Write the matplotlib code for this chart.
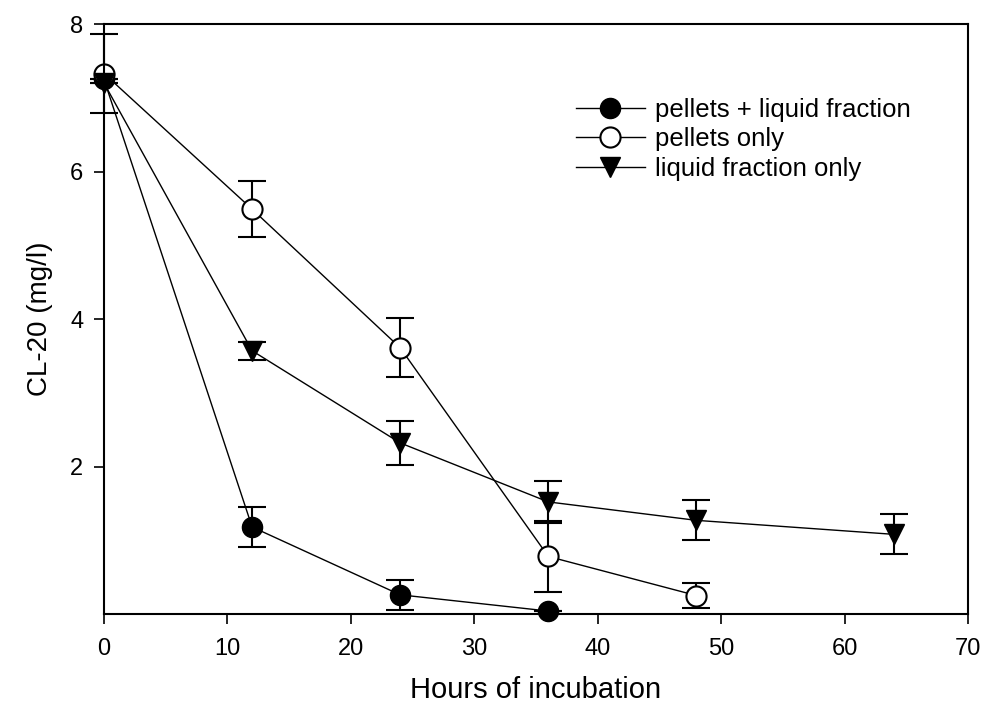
import numpy as np
import matplotlib
matplotlib.use("Agg")
import matplotlib.pyplot as plt
from matplotlib.lines import Line2D

plt.rcParams['font.family'] = ['Liberation Sans', 'DejaVu Sans']

# pellets + liquid fraction
hours_a = [0, 12, 24, 36]
conc_a = [7.25, 1.18, 0.26, 0.04]
err_a = [0.0, 0.27, 0.20, 0.0]

# pellets only
hours_b = [0, 12, 24, 36, 48]
conc_b = [7.33, 5.49, 3.61, 0.78, 0.25]
err_b = [0.53, 0.38, 0.40, 0.48, 0.17]

# liquid fraction only
hours_c = [0, 12, 24, 36, 48, 64]
conc_c = [7.2, 3.57, 2.32, 1.52, 1.27, 1.08]
err_c = [0.0, 0.12, 0.30, 0.28, 0.27, 0.27]

labels = ["pellets + liquid fraction", "pellets only", "liquid fraction only"]
x_ticks = [0, 10, 20, 30, 40, 50, 60, 70]
y_ticks = [2, 4, 6, 8]

fig = plt.figure(figsize=(9.83, 7.09), dpi=100)
ax = fig.add_axes([0.1058, 0.134, 0.8789, 0.832])

common = dict(color="black", lw=1.0, ms=14.5, capsize=10, elinewidth=1.5,
              capthick=1.5, clip_on=False)
ax.errorbar(hours_a, conc_a, yerr=err_a, fmt="-o", mfc="black", mec="black",
            **common)
ax.errorbar(hours_b, conc_b, yerr=err_b, fmt="-o", mfc="white", mec="black",
            mew=1.5, **common)
ax.errorbar(hours_c, conc_c, yerr=err_c, fmt="-v", mfc="black", mec="black",
            **common)

ax.set_xlim(0, 70)
ax.set_ylim(0, 8)
ax.set_xticks(x_ticks)
ax.set_yticks(y_ticks)
ax.tick_params(direction="out", length=7, width=1.2, labelsize=17, pad=8)
ax.tick_params(axis="x", pad=10)
for s in ax.spines.values():
    s.set_linewidth(1.5)

ax.set_xlabel("Hours of incubation", fontsize=21, labelpad=12)
ax.set_ylabel("CL-20 (mg/l)", fontsize=20, labelpad=12)

handles = [
    Line2D([], [], color="black", lw=1.0, marker="o", ms=14.5, mfc="black", mec="black"),
    Line2D([], [], color="black", lw=1.0, marker="o", ms=14.5, mfc="white", mec="black", mew=1.5),
    Line2D([], [], color="black", lw=1.0, marker="v", ms=14.5, mfc="black", mec="black"),
]
ax.legend(handles, labels, loc="upper left", bbox_to_anchor=(0.534, 0.893),
          frameon=False, fontsize=18.5, handlelength=2.7, handletextpad=0.4,
          labelspacing=0.22, borderaxespad=0)

fig.savefig("out.png", dpi=100)
